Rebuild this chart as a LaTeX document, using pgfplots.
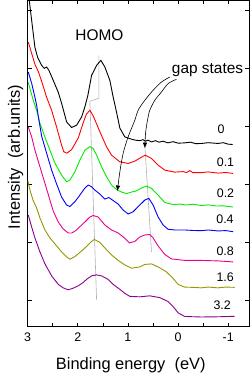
\documentclass[border=0pt]{standalone}
\usepackage{fontspec}
\setmainfont{Liberation Sans}
\usepackage{pgfplots}
\pgfplotsset{compat=1.18}
\usetikzlibrary{arrows.meta}
\definecolor{cgreen}{RGB}{0,235,0}
\definecolor{colive}{RGB}{150,150,0}
\definecolor{cpurple}{RGB}{140,0,140}
\begin{document}
\begin{tikzpicture}
\begin{axis}[name=ax, scale only axis, width=222bp, height=326.7bp,
 x dir=reverse, xmin=-1.422, xmax=3, ymin=0, ymax=327,
 xtick={-1,0,1,2,3}, xticklabels={-1,0,1,2,3},
 minor xtick={-0.5,0.5,1.5,2.5},
 ytick={27,85,143,201,259,317}, yticklabels={},
 major tick length=4bp, minor tick length=4bp,
 tick style={black, line width=0.6bp},
 axis line style={line width=0.8bp},
 xticklabel style={font=\fontsize{12.5}{14}\selectfont, yshift=-3bp},
 xlabel={Binding energy\ \ (eV)},
 ylabel={Intensity\ \ (arb.units)},
 xlabel style={font=\fontsize{16.5}{18}\selectfont, at={(axis description cs:0.465,-0.1325)}, anchor=base},
 ylabel style={font=\fontsize{16.5}{18}\selectfont, at={(axis description cs:-0.0347,0.52)}, anchor=base},
 clip mode=individual,
 every axis plot/.append style={line width=0.9bp, no marks},
]
% guide lines
\draw[gray!60, line width=0.6bp] (axis cs:1.580,272) -- (axis cs:1.580,229) -- (axis cs:1.759,226) -- (axis cs:1.625,27);
\draw[gray!60, line width=0.6bp] (axis cs:0.663,182) -- (axis cs:0.530,75);
% 0
\addplot[black] coordinates {(3.0,340) (2.968,327) (2.920,307) (2.855,280) (2.801,270) (2.721,262) (2.669,259) (2.622,260.3) (2.576,257) (2.490,247) (2.390,235) (2.323,224) (2.223,205.3) (2.124,199.7) (2.024,202) (1.924,210.3) (1.859,220.3) (1.799,232) (1.725,252) (1.625,262) (1.540,267) (1.460,260.3) (1.361,247) (1.295,230.3) (1.227,215) (1.161,199) (1.062,190.3) (0.928,188) (0.85,187) (0.763,186.5) (0.70,187.5) (0.65,186) (0.6,187) (0.53,185.3) (0.45,186.5) (0.38,185) (0.3,186) (0.205,184.3) (0.1,185.5) (0,184) (-0.133,184.3) (-0.25,185) (-0.35,183.5) (-0.466,183.7) (-0.6,184.5) (-0.797,183.7) (-0.9,184.5) (-1.0,183) (-1.09,182.7)};
% 0.1
\addplot[red] coordinates {(2.988,285.3) (2.920,274) (2.855,263) (2.789,256) (2.721,246) (2.622,230) (2.522,217) (2.422,200) (2.323,182) (2.277,175.3) (2.217,174) (2.124,177.5) (1.992,189) (1.892,204.5) (1.829,213) (1.759,217) (1.689,211) (1.560,195.5) (1.426,180.3) (1.327,172) (1.161,165.3) (0.996,163.7) (0.863,166) (0.729,170) (0.653,172) (0.530,168.7) (0.398,162) (0.265,157) (0.066,155) (-0.1,155.5) (-0.167,154.5) (-0.233,156.5) (-0.293,154.5) (-0.466,154.5) (-0.6,155.2) (-0.797,154) (-0.95,154.6) (-1.096,153.7)};
% 0.2
\addplot[cgreen] coordinates {(2.988,245) (2.934,235) (2.888,227) (2.821,217) (2.755,204) (2.655,190) (2.556,177) (2.456,164) (2.323,152) (2.223,145.3) (2.157,147) (2.058,155.3) (1.958,167) (1.859,177) (1.759,180.5) (1.693,178.7) (1.625,172) (1.526,160.3) (1.426,150.3) (1.327,142) (1.227,137.5) (1.127,135) (1.028,133.5) (0.928,135) (0.843,136) (0.729,139) (0.629,141) (0.530,138.7) (0.398,132) (0.265,124.5) (0.100,122.5) (-0.05,123) (-0.153,122) (-0.3,122.8) (-0.466,121.5) (-0.6,122.2) (-0.765,121) (-0.9,121.2) (-1.096,120)};
% 0.4
\addplot[blue] coordinates {(2.988,255.3) (2.920,244) (2.855,230) (2.821,222) (2.785,210) (2.721,191) (2.622,174) (2.522,157) (2.422,143) (2.323,130) (2.223,122) (2.157,120.5) (2.058,125.3) (1.958,132) (1.859,139) (1.793,142) (1.725,140.3) (1.659,137) (1.560,133) (1.460,128) (1.380,129.5) (1.295,126.5) (1.195,123) (1.096,117) (0.996,113) (0.896,115.3) (0.763,122) (0.663,127) (0.584,128.7) (0.498,122) (0.398,110) (0.299,102) (0.199,97.7) (0.066,97) (-0.133,97) (-0.3,96.5) (-0.466,96.3) (-0.6,97) (-0.797,96) (-0.95,96.4) (-1.096,95.3)};
% 0.8
\addplot[magenta] coordinates {(2.988,200.3) (2.920,190.3) (2.855,177) (2.755,160.3) (2.655,143.7) (2.556,127) (2.490,116) (2.390,105) (2.291,98) (2.191,94) (2.118,94) (2.024,97) (1.958,100.3) (1.859,105) (1.759,110) (1.693,111.5) (1.594,110) (1.460,102) (1.327,97) (1.195,94) (1.062,88.7) (0.972,84) (0.863,85.5) (0.763,90) (0.663,92) (0.564,92.5) (0.498,89) (0.398,81) (0.265,72.5) (0.131,68) (-0.133,66.5) (-0.466,66.5) (-0.797,66) (-1.096,65)};
% 1.6
\addplot[colive] coordinates {(2.994,146) (2.954,137) (2.894,127) (2.821,119) (2.755,109) (2.655,97) (2.556,89) (2.422,81) (2.323,75) (2.223,70) (2.157,67.7) (2.058,70.3) (1.924,76) (1.825,80.5) (1.725,85.5) (1.669,87.5) (1.560,84.5) (1.460,79) (1.327,72) (1.195,66.5) (1.062,62) (0.928,58.7) (0.763,60) (0.663,62.5) (0.530,63) (0.398,60) (0.231,55) (0.100,48.5) (0,42.5) (-0.133,39.7) (-0.3,39.5) (-0.466,39) (-0.6,39.8) (-0.797,39) (-0.95,39.8) (-1.129,39.5)};
% 3.2
\addplot[cpurple] coordinates {(2.988,112) (2.920,100) (2.855,89) (2.755,75) (2.655,63) (2.522,51) (2.390,42.5) (2.291,39) (2.191,37) (2.092,38.7) (1.992,41) (1.892,44.3) (1.825,47.5) (1.725,51) (1.625,52) (1.526,51) (1.394,47.5) (1.295,42.5) (1.161,37.5) (1.062,33.5) (0.962,30.5) (0.763,30) (0.564,31) (0.365,29.2) (0.199,25.3) (0.100,20.3) (0,14) (-0.133,10.3) (-0.466,9.8) (-0.797,10) (-1.129,10.5)};
% arrows
\draw[-{Latex[length=5.5bp,width=4.5bp]}, line width=0.6bp] plot[smooth] coordinates {(axis cs:0.165,250.3) (axis cs:0.331,245.3) (axis cs:0.498,237) (axis cs:0.663,227) (axis cs:0.797,217) (axis cs:0.863,207) (axis cs:0.996,190.3) (axis cs:1.096,173.7) (axis cs:1.161,155.3) (axis cs:1.211,136)};
\draw[-{Latex[length=5.5bp,width=4.5bp]}, line width=0.6bp] plot[smooth] coordinates {(axis cs:0.032,248) (axis cs:0.199,243.7) (axis cs:0.331,235.3) (axis cs:0.464,227) (axis cs:0.564,217) (axis cs:0.610,207) (axis cs:0.649,193.7) (axis cs:0.663,179)};
% labels
\node[font=\fontsize{15.5}{17}\selectfont, anchor=base] at (axis cs:1.570,287) {HOMO};
\node[font=\fontsize{15.5}{17}\selectfont, anchor=base] at (axis cs:-0.588,253.7) {gap states};
\node[font=\fontsize{12.5}{14}\selectfont] at (axis cs:-0.857,197.5) {0};
\node[font=\fontsize{12.5}{14}\selectfont] at (axis cs:-0.946,165) {0.1};
\node[font=\fontsize{12.5}{14}\selectfont] at (axis cs:-0.946,133.7) {0.2};
\node[font=\fontsize{12.5}{14}\selectfont] at (axis cs:-0.936,107.8) {0.4};
\node[font=\fontsize{12.5}{14}\selectfont] at (axis cs:-0.940,76.2) {0.8};
\node[font=\fontsize{12.5}{14}\selectfont] at (axis cs:-0.940,49.5) {1.6};
\node[font=\fontsize{12.5}{14}\selectfont] at (axis cs:-0.880,21.2) {3.2};
\end{axis}
\pgfresetboundingbox
\path[use as bounding box] ([xshift=-27.7bp,yshift=-47.3bp]ax.south west) rectangle ([xshift=1.3bp,yshift=0.5bp]ax.north east);
\end{tikzpicture}
\end{document}
